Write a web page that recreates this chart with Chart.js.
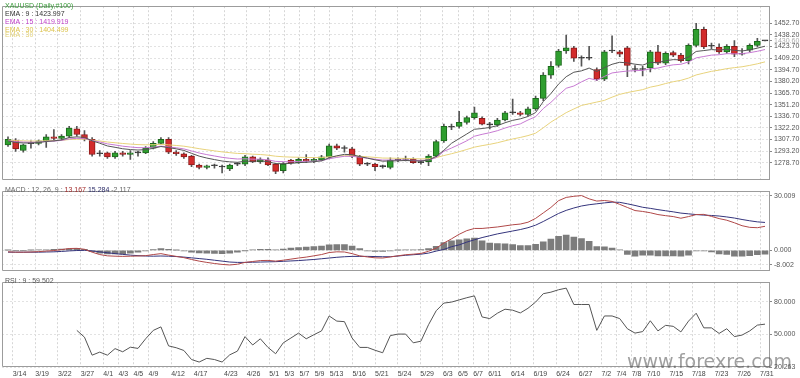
<!DOCTYPE html>
<html><head><meta charset="utf-8">
<script src="https://cdn.jsdelivr.net/npm/chart.js@4.4.1/dist/chart.umd.min.js"></script>
<style>
html,body{margin:0;padding:0;background:#fff;width:800px;height:378px;overflow:hidden;}
#wrap{position:relative;width:800px;height:378px;}
canvas{position:absolute;left:0;}
.t{position:absolute;font-family:"Liberation Sans",Arial,sans-serif;font-size:7px;line-height:8px;white-space:pre;z-index:5;}
#wm{position:absolute;left:627px;top:352px;font-family:"DejaVu Sans",sans-serif;font-size:19px;line-height:19px;color:rgba(80,80,80,0.55);white-space:pre;z-index:6;}
</style></head><body>
<div id="wrap">
<canvas id="cMain" width="800" height="186" style="top:0px"></canvas>
<canvas id="cMacd" width="800" height="92" style="top:185px"></canvas>
<canvas id="cRsi" width="800" height="102" style="top:276px"></canvas>
<div class="t" style="left:5px;top:2px;color:#3c9c3c">XAUUSD (Daily,#100)</div>
<div class="t" style="left:5px;top:10px;color:#333">EMA : 9 : 1423.997</div>
<div class="t" style="left:5px;top:18px;color:#bf3fc8">EMA : 15 : 1419.919</div>
<div class="t" style="left:5px;top:26px;color:#dcc24c">EMA : 30 : 1404.499</div>
<div class="t" style="left:5px;top:31px;color:#e3d27a">EMA : 30</div>
<div class="t" style="left:5px;top:186px;color:#666">MACD : 12, 26, 9 : <span style="color:#a02828">13.167</span> <span style="color:#2a2a66">15.284</span> -2.117</div>
<div class="t" style="left:5px;top:277px;color:#555">RSI : 9 : 59.502</div>
<div id="wm">www.forexre.com</div>
</div>
<script>
// ---------- data ----------
const dates = ['3/14','3/15','3/18','3/19','3/20','3/21','3/22','3/25','3/26','3/27','3/28','3/29',
 '4/1','4/2','4/3','4/4','4/5','4/8','4/9','4/10','4/11','4/12','4/15','4/16','4/17','4/18','4/19','4/22','4/23','4/24','4/25','4/26','4/29','4/30',
 '5/1','5/2','5/3','5/6','5/7','5/8','5/9','5/10','5/13','5/14','5/15','5/16','5/17','5/20','5/21','5/22','5/23','5/24','5/27','5/28','5/29','5/30','5/31',
 '6/3','6/4','6/5','6/6','6/7','6/10','6/11','6/12','6/13','6/14','6/17','6/18','6/19','6/20','6/21','6/24','6/25','6/26','6/27','6/28',
 '7/1','7/2','7/3','7/4','7/5','7/8','7/9','7/10','7/11','7/12','7/15','7/16','7/17','7/18','7/19','7/22','7/23','7/24','7/25','7/26','7/29','7/30','7/31'];
const tickLabels = ['3/14','3/19','3/22','3/27','4/1','4/3','4/5','4/9','4/12','4/17','4/23','4/26','5/1','5/3','5/7','5/9','5/13','5/16','5/21','5/24','5/29',
 '6/3','6/5','6/7','6/11','6/14','6/19','6/24','6/27','7/2','7/4','7/8','7/10','7/15','7/18','7/23','7/26','7/31'];

const open = [1301,1307,1294,1302.5,1303,1306,1311,1309,1312,1321,
 1314,1308,1290,1291,1286,1291,1289,1291,1291,1297,
 1303,1308,1292,1290,1287,1276,1273,1275,1274,1271,
 1277,1277,1286,1280,1282,1277,1269,1282,1279,1283,
 1281,1282,1286,1300,1297,1296,1286,1277,1277,1275,
 1273,1282,1283,1283,1279,1280,1287,1306,1324,1324,
 1329,1335,1334,1327,1326,1332,1341,1341,1339,1346,
 1359,1388,1400,1418,1422,1409,1410,1395,1383,1418,
 1417,1422,1396,1395,1397,1417,1403,1416,1413,1406,
 1425,1445,1424,1423,1417,1424,1414,1419,1425,1430.6];
const high = [1311,1309,1302,1306,1307,1314,1320,1314,1324,1324,
 1319,1310,1294,1292,1293,1293,1294,1293,1299,1305,
 1310,1310,1294,1291,1288,1277,1276,1277,1276,1277,
 1279,1288,1287,1285,1285,1278,1279,1283,1285,1289,
 1285,1288,1302,1302,1300,1298,1288,1279,1278,1276,
 1285,1285,1287,1285,1282,1289,1307,1327,1327,1343,
 1337,1348,1336,1329,1334,1343,1358,1343,1348,1362,
 1391,1405,1420,1438,1424,1412,1424,1397,1419,1437,
 1419,1424,1400,1399,1419,1425,1417,1418,1415,1427,
 1452.7,1448,1428,1427,1426,1431,1421,1427,1434,1430.6];
const low = [1299,1293,1292,1297,1301,1298,1306,1307,1310,1312,
 1306,1287,1287,1284,1284,1287,1283,1287,1290,1296,
 1302,1290,1288,1284,1274,1271,1271,1272,1266,1269,
 1275,1275,1279,1278,1275,1265,1266,1277,1278,1279,
 1279,1281,1284,1295,1292,1285,1275,1275,1269,1272,
 1271,1280,1281,1278,1277,1275,1286,1304,1320,1322,
 1327,1333,1326,1321,1324,1331,1339,1337,1337,1344,
 1356,1384,1398,1415,1405,1399,1407,1381,1381,1416,
 1411,1386,1392,1387,1392,1401,1401,1411,1404,1402,
 1423,1421,1421,1415,1415,1411,1413,1417,1423,1430.6];
const close = [1308,1296,1301,1303,1306,1311,1309,1312,1322,1314,
 1308,1289,1291,1286,1291,1289,1291,1292,1297,1303,
 1308,1292,1290,1286,1276,1273,1275,1275,1273.5,1276,
 1277,1286,1280,1283,1276,1268,1277,1279,1283,1281,
 1283,1286,1300,1297,1296.5,1287,1277,1277,1274,1274,
 1282,1282,1283,1279,1280,1287,1305,1324,1323,1329,
 1335,1341,1327,1326,1332,1341,1341.5,1339,1346,1359,
 1388,1399,1418,1422,1409,1410,1409,1383,1417,1418,
 1414,1400,1395,1396,1417,1403,1415,1413,1406,1425,
 1445,1423,1424.5,1417,1424,1414,1415,1425,1430,1430.6];

const ema9 = [1306.0,1304.0,1303.4,1303.3,1303.9,1305.3,1306.0,1307.2,1310.2,1311.0,
 1310.4,1306.1,1303.1,1299.7,1298.0,1296.2,1295.2,1294.6,1295.1,1296.7,
 1299.0,1297.6,1296.1,1294.1,1290.5,1287.0,1284.6,1282.7,1280.9,1279.9,
 1279.3,1280.7,1280.6,1281.1,1280.1,1277.7,1277.6,1277.9,1278.9,1279.3,
 1280.0,1281.2,1285.0,1287.4,1289.2,1288.8,1286.4,1284.5,1282.4,1280.7,
 1281.0,1281.2,1281.6,1281.1,1280.9,1282.1,1286.7,1294.2,1303.0,1308.8,
 1314.6,1320.5,1321.4,1322.7,1325.0,1328.6,1331.6,1333.5,1336.4,1341.3,
 1355.0,1365.0,1376.8,1386.0,1391.6,1393.3,1396.8,1392.5,1397.4,1401.5,
 1404.0,1403.2,1401.6,1400.5,1403.8,1403.6,1405.9,1407.3,1407.0,1410.6,
 1417.5,1418.6,1419.8,1419.2,1420.2,1418.9,1418.1,1419.5,1421.6,1424.0];
const ema15 = [1306.3,1305.0,1304.5,1304.3,1304.5,1305.3,1305.8,1306.6,1308.5,1309.2,
 1309.0,1306.5,1304.6,1302.3,1300.9,1299.4,1298.4,1297.6,1297.5,1298.2,
 1299.4,1298.5,1297.4,1296.0,1293.5,1290.9,1288.9,1287.2,1285.5,1284.3,
 1283.4,1283.7,1283.2,1283.2,1282.3,1280.5,1280.1,1280.0,1280.4,1280.5,
 1280.8,1281.4,1283.7,1285.4,1286.8,1286.8,1285.6,1284.5,1283.2,1282.1,
 1282.1,1282.1,1282.2,1281.8,1281.6,1282.3,1285.1,1293.0,1297.1,1301.5,
 1306.1,1311.8,1314.2,1316.2,1318.7,1322.0,1324.9,1327.2,1332.0,1336.1,
 1346.3,1354.0,1363.1,1371.6,1374.4,1379.6,1384.0,1381.6,1386.4,1390.7,
 1392.0,1393.1,1393.5,1393.9,1395.9,1396.8,1399.1,1400.8,1401.5,1404.4,
 1409.5,1411.2,1412.9,1413.4,1414.7,1414.6,1414.7,1416.0,1417.7,1419.9];
const ema30 = [1307.1,1306.4,1306.0,1305.8,1305.8,1306.2,1306.4,1306.7,1307.7,1308.1,
 1308.1,1306.9,1305.9,1304.6,1303.7,1302.8,1302.0,1301.4,1301.1,1301.2,
 1301.6,1301.0,1300.3,1299.4,1297.9,1296.3,1294.9,1293.6,1292.3,1291.3,
 1290.4,1290.1,1289.4,1289.0,1288.2,1286.9,1286.2,1285.8,1285.6,1285.3,
 1285.2,1285.2,1286.2,1286.9,1287.5,1287.5,1286.8,1286.2,1285.4,1284.6,
 1284.5,1284.3,1284.2,1283.9,1283.6,1283.9,1285.2,1287.7,1290.0,1292.5,
 1295.3,1298.2,1300.1,1301.7,1303.7,1306.1,1308.4,1310.3,1312.6,1315.6,
 1322.3,1329.4,1335.3,1341.2,1345.8,1350.2,1352.3,1354.4,1356.5,1360.5,
 1364.0,1366.3,1368.1,1369.9,1373.0,1374.9,1377.5,1379.8,1381.5,1384.3,
 1388.2,1390.5,1392.7,1394.2,1396.1,1397.3,1398.4,1400.1,1402.1,1404.5];

const macdLine = [-0.8,-1.0,-1.0,-0.9,-0.7,-0.4,-0.1,0.4,1.0,1.1,
 0.6,-1.0,-2.3,-3.0,-3.2,-3.3,-3.2,-3.1,-2.9,-2.3,
 -1.8,-2.6,-3.3,-4.0,-5.0,-5.9,-6.6,-7.2,-7.7,-8.002,
 -7.6,-6.6,-6.1,-5.6,-5.5,-5.9,-5.4,-4.8,-4.2,-3.7,
 -3.0,-2.3,-1.2,-0.8,-0.9,-1.8,-3.0,-3.6,-4.1,-4.2,
 -3.6,-3.0,-2.4,-2.1,-1.7,-0.5,1.2,4.0,6.3,8.8,
 10.8,12.0,12.0,12.4,12.8,13.4,14.0,14.4,15.4,17.5,
 20.5,23.5,27.2,29.0,29.6,30.009,28.2,27.0,27.3,26.8,
 25.2,23.5,21.8,21.3,20.6,19.6,19.0,18.5,17.6,18.5,
 19.6,19.7,18.6,17.4,16.5,15.1,13.5,12.6,12.4,13.167];
const signalLine = [-1.0,-1.0,-1.0,-1.0,-1.0,-0.9,-0.8,-0.6,-0.3,-0.1,
 0.0,-0.3,-0.8,-1.3,-1.8,-2.2,-2.6,-2.9,-3.1,-3.2,
 -3.1,-3.2,-3.4,-3.7,-4.1,-4.5,-4.9,-5.4,-5.9,-6.4,
 -6.6,-6.6,-6.5,-6.4,-6.3,-6.2,-6.0,-5.8,-5.6,-5.3,
 -5.0,-4.6,-4.2,-3.8,-3.5,-3.3,-3.3,-3.3,-3.4,-3.5,
 -3.5,-3.1,-2.7,-2.4,-2.1,-1.5,-0.4,0.5,2.0,3.0,
 4.5,5.8,7.0,8.0,9.0,9.8,10.6,11.4,12.4,13.8,
 15.8,18.0,20.2,21.9,23.2,24.3,25.0,25.5,26.0,26.4,
 26.3,25.5,24.6,23.6,23.0,22.3,21.7,21.1,20.4,20.0,
 19.6,19.3,19.1,18.8,18.3,17.7,16.9,16.2,15.6,15.284];
const macdHist = [0.1,0.0,0.0,0.1,0.2,0.3,0.5,0.7,0.9,1.1,
 0.6,-0.7,-1.6,-2.0,-2.0,-1.9,-1.6,-1.0,-0.3,0.4,
 1.0,0.5,0.1,-0.3,-1.0,-1.4,-1.6,-1.7,-1.8,-1.6,
 -1.0,-0.1,0.3,0.5,0.5,0.2,0.7,1.2,1.5,1.8,
 2.0,2.4,3.0,3.2,3.1,2.4,1.0,-0.3,-0.6,-0.6,
 -0.2,0.1,0.3,0.3,0.4,1.0,2.2,4.3,5.2,5.8,
 6.3,6.7,5.2,4.0,3.7,3.6,3.1,2.6,2.6,3.3,
 4.6,6.2,7.7,8.4,7.3,6.4,4.9,2.0,1.9,1.3,
 0.3,-2.2,-3.2,-2.6,-2.6,-3.0,-3.0,-3.0,-3.2,-2.6,
 -0.3,-0.3,-0.8,-1.9,-2.2,-3.2,-3.2,-2.9,-2.4,-2.117];

const rsi9 = [null,null,null,null,null,null,null,null,null,
 53.8,47.6,31.1,33.9,31.1,37.1,34.2,38.4,37.3,46.1,
 53.8,57.0,39.6,37.9,35.4,27.1,24.8,28.2,27.1,24.8,
 31.4,34.8,48.1,40.4,46.1,38.2,32.4,42.4,46.8,51.3,
 46.1,49.8,53.3,67.0,62.3,61.8,46.8,38.2,38.2,35.6,
 33.3,49.0,50.4,50.4,42.4,43.9,59.0,71.8,78.8,79.7,
 81.7,83.7,85.4,66.1,64.6,69.5,73.2,72.3,69.8,74.0,
 79.7,87.4,88.8,91.0,92.5,77.5,77.5,77.5,53.8,67.0,
 67.0,64.6,55.3,51.3,52.7,62.6,53.3,58.4,57.5,52.4,
 62.3,69.5,56.1,56.1,51.0,55.3,48.1,49.5,53.3,58.6,
 59.502];

const priceTicks = [1278.7,1293.2,1307.7,1322.2,1336.7,1351.2,1365.7,1380.2,1394.7,1409.2,1423.7,1438.2,1452.7];
const lastPrice = 1430.6;
const macdTicks = [-8.002,0,30.009];
const rsiTicks = [20.263,50,80];

// ---------- styling / helpers ----------
const FONT = {family:'"Liberation Sans", Arial, sans-serif', size:7};
const idx = dates.map((d,i)=>i);
const xy = arr => idx.filter(i => arr[i] !== null).map(i => ({x:i, y:arr[i]}));

const frame = {
  id:'frame',
  afterDatasetsDraw(chart){
    const {ctx, chartArea:a} = chart;
    const L = Math.round(a.left)+0.5, T = Math.round(a.top)+0.5, R = Math.round(a.right)+0.5, B = Math.round(a.bottom)-0.5;
    ctx.save();
    ctx.strokeStyle = '#9c9c9c'; ctx.lineWidth = 1; ctx.setLineDash([]);
    ctx.beginPath();
    ctx.moveTo(L,B); ctx.lineTo(L,T); ctx.lineTo(R,T);
    ctx.moveTo(L,B); ctx.lineTo(R,B);
    ctx.stroke();
    ctx.restore();
  }
};

function xAxis(show){
  return {
    type:'linear', min:-0.785, max:99.523, bounds:'data', offset:false,
    afterBuildTicks: s => { s.ticks = tickLabels.map(l => { const i = dates.indexOf(l); return {value: i + 0.615 - i*0.0128}; }); },
    ticks:{display:show, autoSkip:false, maxRotation:0, minRotation:0, align:'start', padding:3, color:'#444', font:FONT,
      callback:(v,i)=>tickLabels[i]},
    grid:{offset:false, color:'#d6d6d6', lineWidth:1, drawTicks:false},
    border:{display:false, dash:[2,2]},
    afterFit: s => { if (show) s.height = 11; }
  };
}
function yAxis(min, max, ticks, dec, withLast){
  return {
    type:'linear', position:'right', min, max, bounds:'data', beginAtZero:false,
    afterBuildTicks: s => { s.ticks = ticks.map(v => ({value:v})); },
    afterFit: s => { s.width = 31; },
    ticks:{autoSkip:false, padding:2, font:FONT,
      color: c => (withLast && c.tick && c.tick.value === lastPrice) ? '#aaaaaa' : '#555555',
      callback: v => Number(v).toFixed(dec)},
    grid:{color: c => (withLast && c.tick && c.tick.value === lastPrice) ? 'rgba(0,0,0,0)' : '#e2e2e2',
      tickColor:'#888', tickLength:3, drawTicks:true, lineWidth:1},
    border:{display:true, color:'#9c9c9c', dash:[2,2]}
  };
}
const common = {
  responsive:false, animation:false, devicePixelRatio:1, events:[],
  plugins:{legend:{display:false}, tooltip:{enabled:false}}
};

// ---------- main price chart ----------
const upFill='#2f9e2f', upLine='#1c681c', dnFill='#d22b2b', dnLine='#8c1b1b', flat='#333333';
const isFlat = i => Math.abs(close[i]-open[i]) <= 1;
const bodyFill = idx.map(i => isFlat(i) ? flat : (close[i] > open[i] ? upFill : dnFill));
const bodyLine = idx.map(i => isFlat(i) ? flat : (close[i] > open[i] ? upLine : dnLine));

new Chart(document.getElementById('cMain'), {
  type:'bar',
  data:{datasets:[
    {type:'line', label:'EMA 9', data:xy(ema9), borderColor:'#555555', borderWidth:1, pointRadius:0, tension:0, order:0},
    {type:'line', label:'EMA 15', data:xy(ema15), borderColor:'#c77ad2', borderWidth:1, pointRadius:0, tension:0, order:0},
    {type:'line', label:'EMA 30', data:xy(ema30), borderColor:'#e8d37c', borderWidth:1, pointRadius:0, tension:0, order:0},
    {label:'body', data: idx.map(i => ({x:i, y:[open[i], close[i]]})), backgroundColor:bodyFill, borderColor:bodyLine,
      borderWidth:1, borderSkipped:false, barThickness:6, maxBarThickness:6, grouped:false, minBarLength:1, order:1},
    {label:'wick', data: idx.map(i => ({x:i, y:[low[i], high[i]]})), backgroundColor:'#555555', borderWidth:0,
      barThickness:1, maxBarThickness:1, grouped:false, order:2}
  ]},
  options:Object.assign({}, common, {
    layout:{padding:{left:2, top:2, right:0, bottom:0}},
    scales:{ x:xAxis(false), y:yAxis(1257.5, 1473.9, priceTicks.concat([lastPrice]), 2, true) }
  }),
  plugins:[frame]
});

// ---------- MACD ----------
new Chart(document.getElementById('cMacd'), {
  type:'bar',
  data:{datasets:[
    {type:'line', label:'MACD', data:xy(macdLine), borderColor:'#b04848', borderWidth:1, pointRadius:0, tension:0, order:0},
    {type:'line', label:'Signal', data:xy(signalLine), borderColor:'#34347c', borderWidth:1, pointRadius:0, tension:0, order:0},
    {label:'Hist', data:xy(macdHist), backgroundColor:'#7c7c7c', borderWidth:0, barThickness:6, maxBarThickness:6, grouped:false, order:1}
  ]},
  options:Object.assign({}, common, {
    layout:{padding:{left:2, top:0, right:0, bottom:0}},
    scales:{ x:xAxis(false), y:yAxis(-11.2, 32.4, macdTicks, 3, false) }
  }),
  plugins:[frame]
});

// ---------- RSI ----------
new Chart(document.getElementById('cRsi'), {
  type:'line',
  data:{datasets:[
    {label:'RSI', data:xy(rsi9), borderColor:'#555555', borderWidth:1, pointRadius:0, tension:0}
  ]},
  options:Object.assign({}, common, {
    layout:{padding:{left:2, top:0, right:0, bottom:0}},
    scales:{ x:xAxis(true), y:yAxis(20.263, 97.92, rsiTicks, 3, false) }
  }),
  plugins:[frame]
});
</script>
</body></html>
